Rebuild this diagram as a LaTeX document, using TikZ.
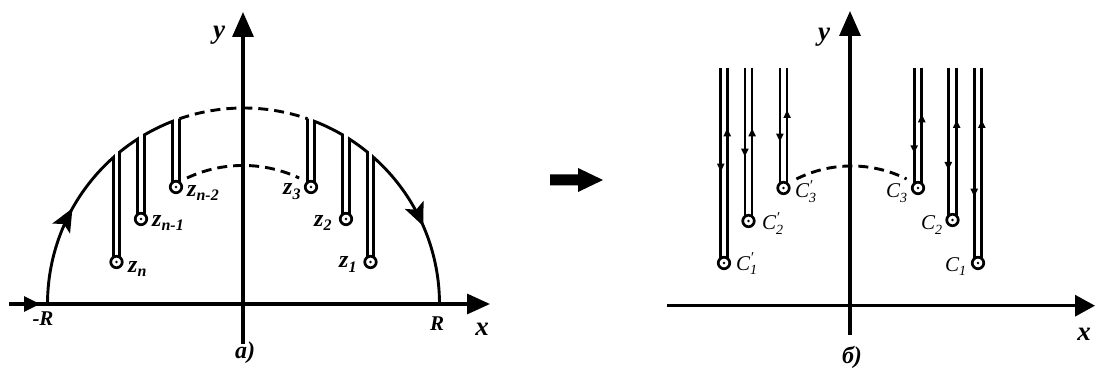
\documentclass[tikz,border=0pt]{standalone}
\usepackage{fontspec}
\setmainfont{Liberation Serif}
\usetikzlibrary{arrows.meta,decorations.markings}
\newcommand\zsub[1]{\raisebox{-4.5pt}{\fontsize{16}{16}\selectfont #1}}
\newcommand\csub[1]{\raisebox{-4.5pt}{\fontsize{14}{14}\selectfont #1}}
\newcommand\cprsub[1]{\raisebox{-4.5pt}{\fontsize{14}{14}\selectfont\setlength{\lineskip}{-6.5pt}\shortstack[l]{\fontsize{15}{15}\selectfont\char"2032\\#1}}}
\begin{document}
\begin{tikzpicture}[x=1pt,y=1pt,
  axisline/.style={line width=3.3pt},
  contour/.style={line width=2.9pt},
  cutline/.style={line width=2.7pt},
  dashpat/.style={line width=2.9pt,dash pattern=on 10pt off 6pt},
  tinyarrow/.style={line width=2.7pt,-{Triangle[length=8pt,width=7pt]}},
  pole/.style={circle,draw,line width=2.7pt,fill=white,minimum size=11.5pt,inner sep=0pt},
  zlbl/.style={inner sep=0pt,anchor=base west,font=\fontsize{24}{24}\selectfont\bfseries\itshape},
  clbl/.style={inner sep=0pt,anchor=base west,font=\fontsize{21}{21}\selectfont\itshape},
  axlbl/.style={inner sep=0pt,font=\fontsize{27}{27}\selectfont\bfseries\itshape},
  rlbl/.style={inner sep=0pt,font=\fontsize{21}{21}\selectfont\bfseries\itshape},
  sublbl/.style={inner sep=0pt,font=\fontsize{24}{24}\selectfont\bfseries\itshape},
  arrowat/.style={postaction={decorate},decoration={markings,
     mark=at position #1 with {\arrow{Stealth[length=23pt,width=20pt,inset=5pt]}}}},
]
\useasboundingbox (0,0) rectangle (1096,372);

% ---------------- left picture a) ----------------
\coordinate (xa0) at (9,68);
\coordinate (xa1) at (490,68);
\coordinate (xam) at (40,68);
\coordinate (ya0) at (243,28);
\coordinate (ya1) at (243,360);
\draw[axisline,-{Triangle[length=23pt,width=20pt]}] (xa0) -- (xa1);
\draw[axisline,-{Triangle[length=16pt,width=15pt]}] (xa0) -- (xam);
\draw[axisline,-{Triangle[length=25pt,width=21pt]}] (ya0) -- (ya1);

\begin{scope}[shift={(243.5,68)}]
  \draw[contour,arrowat={100pt}] (180:196) arc[start angle=180,end angle=131.55,radius=196] -- (-130,42)
    (-124,42) -- (129.25:196) arc[start angle=129.25,end angle=122.74,radius=196] -- (-106,85)
    (-99,85) -- (120.34:196) arc[start angle=120.34,end angle=111.24,radius=196] -- (-71,117)
    (-64,117) -- (109.06:196);
  \draw[dashpat] (109.06:196) arc[start angle=109.06,end angle=70.94,radius=196];
  \draw[contour,arrowat={-80pt}] (70.94:196) -- (64,117)
    (71,117) -- (68.76:196) arc[start angle=68.76,end angle=59.66,radius=196] -- (99,85)
    (106,85) -- (57.26:196) arc[start angle=57.26,end angle=50.75,radius=196] -- (124,42)
    (130,42) -- (48.45:196) arc[start angle=48.45,end angle=0,radius=196];
  \draw[dashpat] (-56.5,126) arc[start angle=115.2,end angle=64.8,radius=131.7];
  \foreach \n/\px/\py in {zn/-127/42, zna/-102.5/85, znb/-67.5/117, zc/67.5/117, zb/102.5/85, za/127/42}{
    \node[pole] (\n) at (\px,\py) {};
    \fill (\n.center) circle (1.4);
  }
\end{scope}

\node[zlbl] (lzn) at (128,99.5) {z\zsub{n}};
\node[zlbl] (lzna) at (152,145.5) {z\zsub{n-1}};
\node[zlbl] (lznb) at (187,175.5) {z\zsub{n-2}};
\node[zlbl] (lzc) at (283,177) {z\zsub{3}};
\node[zlbl] (lzb) at (314,145.5) {z\zsub{2}};
\node[zlbl] (lza) at (339,104) {z\zsub{1}};

\node[rlbl] (lmR) at (43,53) {-R};
\node[rlbl] (lR) at (437,48) {R};
\node[axlbl] (lxa) at (482,43) {x};
\node[axlbl] (lya) at (219,337) {y};
\node[sublbl] (la) at (245,19) {a)};

% ---------------- middle arrow ----------------
\fill (550,186.5) -- (578,186.5) -- (578,180) -- (603,192) -- (578,204) -- (578,197.5) -- (550,197.5) -- cycle;

% ---------------- right picture б) ----------------
\coordinate (xb0) at (667,66.3);
\coordinate (xb1) at (1095,66.3);
\coordinate (yb0) at (850,37);
\coordinate (yb1) at (850,361);
\draw[axisline,-{Triangle[length=20pt,width=21pt]}] (xb0) -- (xb1);
\draw[axisline,-{Triangle[length=25pt,width=21pt]}] (yb0) -- (yb1);

\draw[dashpat] (796.4,193) arc[start angle=116.6,end angle=63.4,radius=123];

\newcommand\mycut[6]{%
  \draw[cutline] ({#1-#3},304.3) -- ({#1-#3},#2);
  \draw[cutline] ({#1+#3},304.3) -- ({#1+#3},#2);
  \draw[tinyarrow] ({#1-#3},{#4+9}) -- ({#1-#3},#4);
  \draw[tinyarrow] ({#1+#3},{#5-9}) -- ({#1+#3},#5);
  \node[pole] (#6) at (#1,#2) {};
  \fill (#6.center) circle (1.4);
}
\mycut{724}{109}{3.2}{200.3}{243.7}{cpa}
\mycut{748.5}{151}{3.6}{215.3}{243.7}{cpb}
\mycut{783.5}{184}{3.6}{230.3}{262}{cpc}
\mycut{918}{184}{3.8}{218.7}{257.7}{cc}
\mycut{952.5}{152}{4.2}{202}{252}{cb}
\mycut{978}{109}{3.8}{175.3}{252}{ca}

\node[clbl] (lcpa) at (736,101.5) {C\cprsub{1}};
\node[clbl] (lcpb) at (762,142) {C\cprsub{2}};
\node[clbl] (lcpc) at (795,174) {C\cprsub{3}};
\node[clbl] (lcc) at (886,174) {C\csub{3}};
\node[clbl] (lcb) at (921,142) {C\csub{2}};
\node[clbl] (lca) at (945,100.5) {C\csub{1}};

\node[axlbl] (lxb) at (1084,38) {x};
\node[axlbl] (lyb) at (824,335) {y};
\node[sublbl] (lb) at (852,15) {б)};
\end{tikzpicture}
\end{document}
